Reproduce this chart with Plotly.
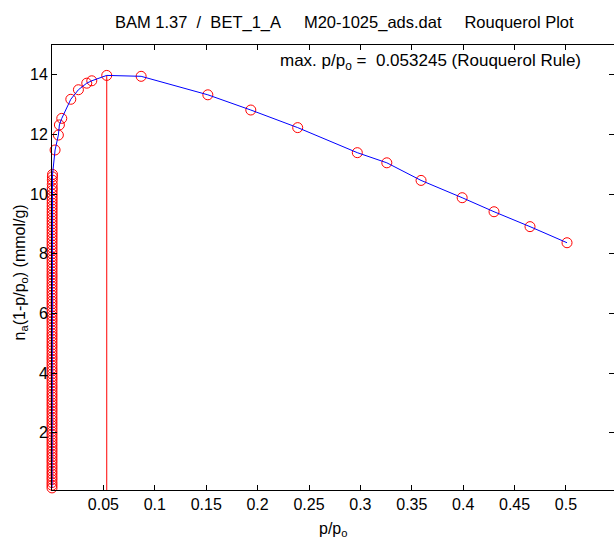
import plotly.graph_objects as go

# ---- data ----
cluster_p = [1.0e-7, 1.5e-7, 2.1e-7, 2.8e-7, 3.6e-7, 4.5e-7, 5.5e-7, 6.6e-7, 7.8e-7, 9.1e-7,
             1.05e-6, 1.2e-6, 1.36e-6, 1.53e-6, 1.71e-6, 1.9e-6, 2.1e-6, 2.31e-6, 2.53e-6, 2.76e-6,
             3.0e-6, 3.25e-6, 3.51e-6, 3.78e-6, 4.06e-6, 4.35e-6, 4.65e-6, 4.96e-6, 5.28e-6, 5.61e-6,
             5.95e-6, 6.3e-6, 6.66e-6, 7.03e-6, 7.41e-6, 7.8e-6, 8.2e-6, 8.61e-6, 9.03e-6, 9.46e-6,
             9.9e-6, 1.035e-5, 1.081e-5, 1.128e-5, 1.176e-5, 1.225e-5, 1.275e-5, 1.326e-5, 1.378e-5, 1.431e-5,
             1.485e-5, 1.54e-5, 1.6e-5, 1.66e-5, 1.73e-5, 1.8e-5, 1.87e-5, 1.95e-5, 2.03e-5, 2.11e-5,
             2.2e-5, 2.29e-5, 2.39e-5, 2.49e-5, 2.6e-5, 2.71e-5, 2.83e-5, 2.95e-5, 3.08e-5, 3.21e-5,
             3.35e-5, 3.5e-5, 3.65e-5, 3.81e-5, 3.98e-5, 4.16e-5, 4.35e-5, 4.55e-5, 4.76e-5, 4.98e-5,
             5.21e-5, 5.45e-5, 5.7e-5, 5.97e-5, 6.25e-5, 6.55e-5, 6.87e-5, 7.21e-5, 7.57e-5, 7.95e-5,
             8.35e-5, 8.78e-5, 9.24e-5, 9.73e-5, 1.025e-4, 1.08e-4, 1.14e-4, 1.21e-4, 1.29e-4, 1.38e-4,
             1.5e-4, 1.65e-4, 1.85e-4, 2.1e-4, 2.45e-4, 3.0e-4, 3.9e-4, 5.2e-4]
cluster_v = [0.15, 0.24, 0.33, 0.43, 0.52, 0.62, 0.71, 0.81, 0.90, 1.00,
             1.09, 1.19, 1.28, 1.38, 1.47, 1.57, 1.66, 1.76, 1.85, 1.95,
             2.04, 2.14, 2.24, 2.33, 2.43, 2.52, 2.62, 2.72, 2.81, 2.91,
             3.00, 3.10, 3.20, 3.29, 3.39, 3.49, 3.58, 3.68, 3.78, 3.87,
             3.97, 4.07, 4.16, 4.26, 4.36, 4.46, 4.55, 4.65, 4.75, 4.85,
             4.94, 5.04, 5.14, 5.24, 5.33, 5.43, 5.53, 5.63, 5.73, 5.82,
             5.92, 6.02, 6.12, 6.22, 6.32, 6.41, 6.51, 6.61, 6.71, 6.81,
             6.91, 7.01, 7.11, 7.21, 7.30, 7.40, 7.50, 7.60, 7.70, 7.80,
             7.90, 8.00, 8.10, 8.20, 8.30, 8.40, 8.50, 8.60, 8.70, 8.80,
             8.90, 9.00, 9.10, 9.20, 9.30, 9.40, 9.50, 9.60, 9.70, 9.80,
             9.90, 10.00, 10.12, 10.21, 10.33, 10.47, 10.58, 10.66]
curve_p = [0.0030, 0.0062, 0.0072, 0.0095, 0.0183, 0.0257, 0.0338, 0.0387, 0.053245,
           0.0867, 0.1516, 0.1934, 0.2390, 0.2970, 0.3257, 0.3590, 0.3990, 0.4300, 0.4650, 0.5010]
curve_v = [11.48, 11.98, 12.32, 12.54, 13.18, 13.50, 13.72, 13.80, 13.98,
           13.95, 13.33, 12.82, 12.23, 11.39, 11.05, 10.46, 9.88, 9.41, 8.91, 8.37]
rouquerol_max_p = 0.053245
rouquerol_max_v = 13.98

x_ticks = [0.05, 0.1, 0.15, 0.2, 0.25, 0.3, 0.35, 0.4, 0.45, 0.5]
x_ticktext = ["0.05", "0.1", "0.15", "0.2", "0.25", "0.3", "0.35", "0.4", "0.45", "0.5"]
y_ticks = [2, 4, 6, 8, 10, 12, 14]
y_ticktext = ["2", "4", "6", "8", "10", "12", "14"]

all_p = cluster_p + curve_p
all_v = cluster_v + curve_v
y_min = 0.08

FONT = "Liberation Sans, Arial, sans-serif"

fig = go.Figure()
fig.add_trace(go.Scatter(x=[rouquerol_max_p, rouquerol_max_p], y=[y_min, rouquerol_max_v],
                         mode="lines", line=dict(color="red", width=1), showlegend=False))
fig.add_trace(go.Scatter(x=all_p, y=all_v, mode="markers", cliponaxis=False,
                         marker=dict(symbol="circle-open", size=10, color="red", line=dict(width=1, color="red")),
                         showlegend=False))
fig.add_trace(go.Scatter(x=all_p, y=all_v, mode="lines", cliponaxis=False,
                         line=dict(color="blue", width=1), showlegend=False))

fig.update_layout(
    width=614, height=539,
    margin=dict(l=52, r=0, t=45, b=49),
    paper_bgcolor="white", plot_bgcolor="white",
    font=dict(family=FONT, size=16, color="black"),
    xaxis=dict(range=[0, 0.5467], tickvals=x_ticks, ticktext=x_ticktext,
               ticks="inside", ticklen=5, tickcolor="black", showline=True, linecolor="black",
               linewidth=1, mirror="ticks", showgrid=False, zeroline=False,
               tickfont=dict(family=FONT, size=16)),
    yaxis=dict(range=[y_min, 15], tickvals=y_ticks, ticktext=y_ticktext,
               ticks="inside", ticklen=5, tickcolor="black", showline=True, linecolor="black",
               linewidth=1, mirror="ticks", showgrid=False, zeroline=False,
               tickfont=dict(family=FONT, size=16)),
    annotations=[
        dict(text="BAM 1.37\u00a0 /\u00a0 BET_1_A\u00a0\u00a0\u00a0\u00a0 M20-1025_ads.dat\u00a0\u00a0\u00a0\u00a0 Rouquerol Plot",
             xref="paper", yref="paper", x=0.521, y=1, yshift=23, xanchor="center", yanchor="middle",
             showarrow=False, font=dict(family=FONT, size=16.5)),
        dict(text="max. p/p<sub>o</sub> =\u00a0 0.053245 (Rouquerol Rule)",
             xref="x", yref="paper", x=0.2195, y=1, yshift=-17, xanchor="left", yanchor="middle",
             showarrow=False, font=dict(family=FONT, size=17)),
        dict(text="p/p<sub>o</sub>", xref="paper", yref="paper", x=0.5, y=0, yshift=-39,
             xanchor="center", yanchor="middle", showarrow=False, font=dict(family=FONT, size=16)),
        dict(text="n<sub>a</sub>(1-p/p<sub>o</sub>) (mmol/g)", xref="paper", yref="paper",
             x=0, xshift=-32, y=0.489, xanchor="center", yanchor="middle", textangle=-90,
             showarrow=False, font=dict(family=FONT, size=16)),
    ],
)

fig.write_html("out.html", config={"displayModeBar": False},
               post_script="document.body.style.margin='0';")
